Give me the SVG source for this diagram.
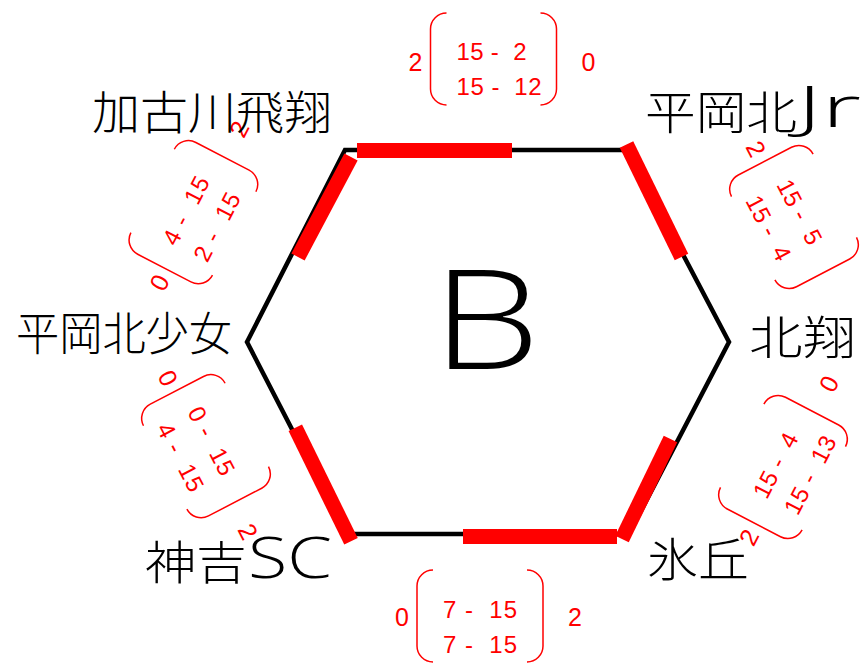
<svg xmlns="http://www.w3.org/2000/svg" width="866" height="665" viewBox="0 0 866 665">
<defs>
<style>
.team{font-family:"Noto Sans CJK JP","Noto Sans",sans-serif;font-size:46px;font-weight:300;fill:#000}
.lat{font-family:"Open Sans","Liberation Sans",sans-serif;font-weight:300;font-size:57px}
.sc{font-family:"Liberation Sans",Arial,sans-serif;font-size:24px;fill:#f00;white-space:pre}
.pt{font-family:"Liberation Sans",Arial,sans-serif;font-size:25px;fill:#f00;text-anchor:middle}
.br{fill:none;stroke:#f00;stroke-width:1.5}
.edge{stroke:#000;stroke-width:4.5;fill:none;stroke-linejoin:miter}
.hl{stroke:#f00;stroke-width:15}
.big{font-family:"Open Sans","Liberation Sans",sans-serif;font-weight:300;font-size:138px;fill:#000}
</style>
<g id="bk">
<path class="br" d="M-47,-46 A16,16 0 0 0 -63,-30 V30 A16,16 0 0 0 -47,46"/>
<path class="br" d="M47,-46 A16,16 0 0 1 63,-30 V30 A16,16 0 0 1 47,46"/>
</g>
</defs>
<rect width="866" height="665" fill="#fff"/>
<g id="connectors">
<polygon class="edge" points="247,342 345,150 628,150 729,342 629,534 346,534"/>
<line class="hl" x1="357" y1="150.5" x2="512" y2="150.5"/>
<line class="hl" x1="351" y1="157" x2="298" y2="257"/>
<line class="hl" x1="626.5" y1="144.5" x2="681.5" y2="257"/>
<line class="hl" x1="295.3" y1="427.8" x2="351" y2="541.3"/>
<line class="hl" x1="463" y1="536.5" x2="617" y2="536.5"/>
<line class="hl" x1="670.5" y1="439" x2="622" y2="539"/>
</g>
<g id="center-label"><text class="big" x="432" y="369" textLength="108" lengthAdjust="spacingAndGlyphs">B</text></g>
<g id="scores">
<g transform="translate(493.5,59)"><use href="#bk"/><text class="sc" x="-37" y="1" textLength="70">15 -  2</text><text class="sc" x="-37" y="36" textLength="85">15 -  12</text><text class="pt" x="-78" y="12">2</text><text class="pt" x="95" y="12">0</text></g>
<g transform="translate(480,616)"><use href="#bk"/><text class="sc" x="-37" y="2" textLength="74">7 -  15</text><text class="sc" x="-37" y="37" textLength="74">7 -  15</text><text class="pt" x="-78" y="10">0</text><text class="pt" x="95" y="10">2</text></g>
<g transform="translate(794,217) rotate(62.5)"><use href="#bk"/><text class="sc" x="-37" y="1" textLength="70">15 -  5</text><text class="sc" x="-37" y="36" textLength="70">15 -  4</text><text class="pt" x="-78" y="11">2</text></g>
<g transform="translate(783,467) rotate(-62.5)"><use href="#bk"/><text class="sc" x="-37" y="1" textLength="70">15 -  4</text><text class="sc" x="-37" y="36" textLength="85">15 -  13</text><text class="pt" x="-78" y="11">2</text><text class="pt" x="95" y="11">0</text></g>
<g transform="translate(193.4,212.2) rotate(-62.5)"><use href="#bk"/><text class="sc" x="-39" y="1" textLength="74">4 -  15</text><text class="sc" x="-39" y="36" textLength="74">2 -  15</text><text class="pt" x="-78" y="11">0</text><text class="pt" x="95" y="11">2</text></g>
<g transform="translate(206,446.2) rotate(62.5)"><use href="#bk"/><text class="sc" x="-39" y="1" textLength="74">0 -  15</text><text class="sc" x="-39" y="36" textLength="74">4 -  15</text><text class="pt" x="-78" y="11">0</text><text class="pt" x="95" y="11">2</text></g>
</g>
<g id="team-kakogawa"><text class="team" x="92" y="129" textLength="240" lengthAdjust="spacingAndGlyphs">加古川飛翔</text></g>
<g id="team-hiraokakita-jr"><text class="team" x="645" y="129"><tspan textLength="152" lengthAdjust="spacingAndGlyphs">平岡北</tspan><tspan class="lat" x="797" y="127" textLength="64" lengthAdjust="spacingAndGlyphs">Jr</tspan></text></g>
<g id="team-hokusho"><text class="team" x="749" y="354" textLength="107" lengthAdjust="spacingAndGlyphs">北翔</text></g>
<g id="team-hiraokakita-girls"><text class="team" x="16" y="350" font-size="44" textLength="216" lengthAdjust="spacingAndGlyphs">平岡北少女</text></g>
<g id="team-kanki"><text class="team" x="145" y="579"><tspan textLength="102" lengthAdjust="spacingAndGlyphs">神吉</tspan><tspan class="lat" x="248" y="578" textLength="84" lengthAdjust="spacingAndGlyphs">SC</tspan></text></g>
<g id="team-hyoukyu"><text class="team" x="647" y="576" textLength="102" lengthAdjust="spacingAndGlyphs">氷丘</text></g>
</svg>
